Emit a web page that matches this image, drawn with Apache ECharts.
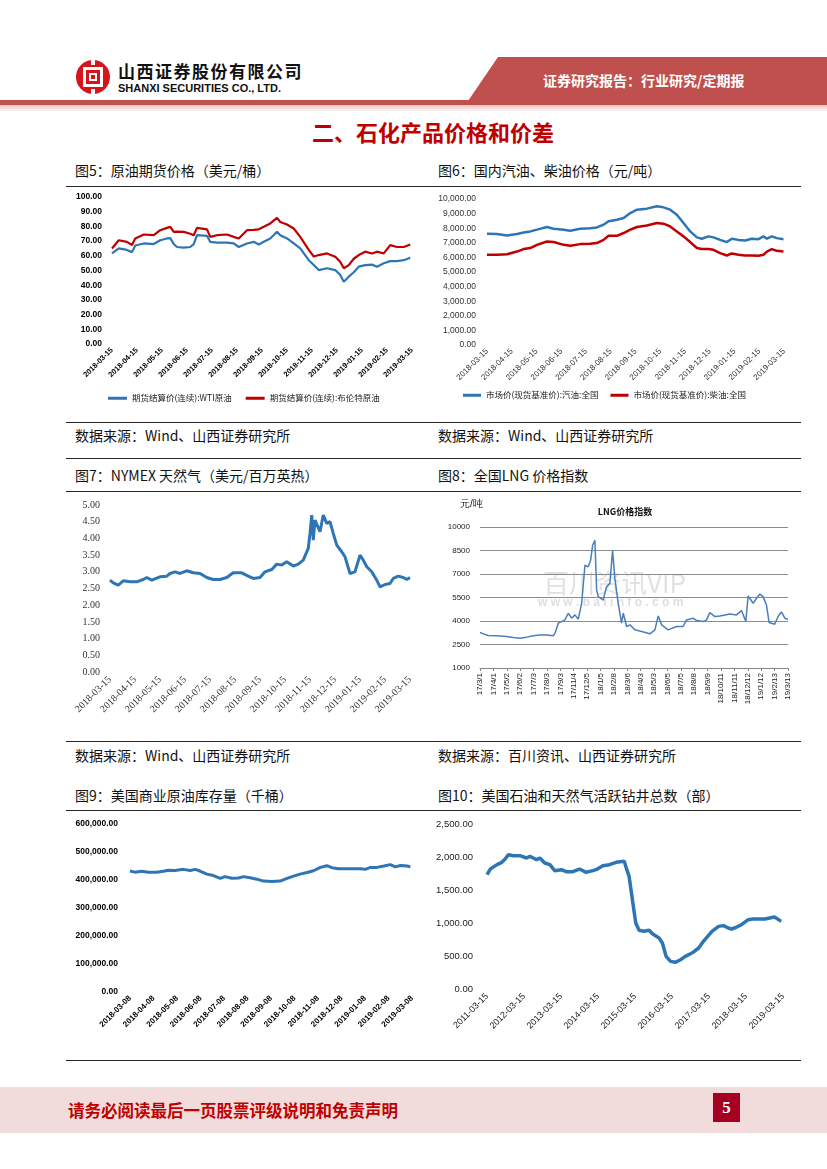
<!DOCTYPE html>
<html><head><meta charset="utf-8">
<script src="https://cdn.jsdelivr.net/npm/echarts@6/dist/echarts.min.js"></script>
<style>
body{margin:0;width:827px;height:1169px;position:relative;background:#fff;font-family:"Noto Sans CJK SC","Liberation Sans",sans-serif;overflow:hidden}
.abs{position:absolute}
.hl{position:absolute;left:66px;width:735px;height:1px;background:#262626}
.cap{position:absolute;font-size:14px;color:#111;line-height:16px;white-space:nowrap}
.chart{position:absolute}
</style></head><body>
<svg class="abs" style="left:0;top:0" width="827" height="115">
  <defs><linearGradient id="pg" x1="0" y1="0" x2="0" y2="1"><stop offset="0" stop-color="#EBC4C3"/><stop offset="1" stop-color="#FFFFFF"/></linearGradient></defs>
  <polygon points="498,57 827,57 827,101 468,101" fill="#C0504D"/>
  <rect x="0" y="100" width="827" height="5" fill="#C0504D"/>
  <rect x="0" y="105" width="827" height="7" fill="url(#pg)"/>
  <g transform="translate(76,60)">
    <circle cx="17" cy="17" r="17" fill="#D7141A"/>
    <rect x="15" y="0" width="4" height="5" fill="#fff"/>
    <rect x="15" y="29" width="4" height="5" fill="#fff"/>
    <rect x="7" y="7" width="20" height="20" fill="#fff"/>
    <rect x="10" y="10" width="14" height="14" fill="#D7141A"/>
    <rect x="13" y="13" width="8" height="8" fill="#fff"/>
    <rect x="15" y="15" width="4" height="4" fill="#D7141A"/>
  </g>
</svg>
<div class="abs" style="left:118px;top:61px;font-size:17px;font-weight:bold;letter-spacing:1.5px;color:#111;line-height:20px">山西证券股份有限公司</div>
<div class="abs" style="left:118px;top:82px;font-size:11px;font-weight:bold;color:#111;font-family:'Liberation Sans',sans-serif;line-height:13px">SHANXI SECURITIES CO., LTD.</div>
<div class="abs" style="left:543px;top:71px;font-size:14px;font-weight:bold;color:#fff;line-height:18px">证券研究报告：行业研究/定期报</div>
<div class="abs" style="left:0;width:866px;top:118px;text-align:center;font-size:22px;font-weight:bold;color:#C00000;line-height:26px">二、石化产品价格和价差</div>

<div class="cap" style="left:75px;top:162px">图5：原油期货价格（美元/桶）</div>
<div class="cap" style="left:438px;top:162px">图6：国内汽油、柴油价格（元/吨）</div>
<div class="hl" style="top:186px"></div>
<div class="hl" style="top:422px"></div>
<div class="cap" style="left:75px;top:427px">数据来源：Wind、山西证券研究所</div>
<div class="cap" style="left:438px;top:427px">数据来源：Wind、山西证券研究所</div>
<div class="hl" style="top:458px"></div>
<div class="cap" style="left:75px;top:467px">图7：NYMEX 天然气（美元/百万英热）</div>
<div class="cap" style="left:438px;top:467px">图8：全国LNG 价格指数</div>
<div class="hl" style="top:491px"></div>
<div class="hl" style="top:741px"></div>
<div class="cap" style="left:75px;top:747px">数据来源：Wind、山西证券研究所</div>
<div class="cap" style="left:438px;top:747px">数据来源：百川资讯、山西证券研究所</div>
<div class="cap" style="left:75px;top:787px">图9：美国商业原油库存量（千桶）</div>
<div class="cap" style="left:438px;top:787px">图10：美国石油和天然气活跃钻井总数（部）</div>
<div class="hl" style="top:810px"></div>
<div class="hl" style="top:1060px"></div>

<div class="abs" style="left:0;top:1087px;width:827px;height:46px;background:#F2DCDB"></div>
<div class="abs" style="left:68px;top:1100px;font-size:16.5px;font-weight:bold;color:#C00000;line-height:20px">请务必阅读最后一页股票评级说明和免责声明</div>
<div class="abs" style="left:713px;top:1093px;width:27px;height:29px;background:#A50021;color:#fff;font-family:'Liberation Serif',serif;font-weight:bold;font-size:17px;line-height:29px;text-align:center">5</div>

<div id="c5" class="chart" style="left:60px;top:187px;width:365px;height:225px"></div>
<div id="c6" class="chart" style="left:430px;top:187px;width:380px;height:225px"></div>
<div id="c7" class="chart" style="left:60px;top:492px;width:365px;height:245px"></div>
<div id="c8" class="chart" style="left:430px;top:492px;width:380px;height:245px"></div>
<div id="c9" class="chart" style="left:60px;top:812px;width:365px;height:245px"></div>
<div id="c10" class="chart" style="left:430px;top:812px;width:380px;height:245px"></div>

<script>
// ---------- Chart 5: crude futures (x in months from 2018-03-15) ----------
const c5Ticks = ['2018-03-15','2018-04-15','2018-05-15','2018-06-15','2018-07-15','2018-08-15','2018-09-15','2018-10-15','2018-11-15','2018-12-15','2019-01-15','2019-02-15','2019-03-15'];
const c5Names = ['期货结算价(连续):WTI原油','期货结算价(连续):布伦特原油'];
const c5X = [0,0.27,0.6,0.8,0.93,1.27,1.67,1.93,2.2,2.33,2.47,2.6,2.87,3.13,3.27,3.4,3.8,3.93,4.2,4.6,4.87,5.07,5.4,5.67,5.87,6.07,6.33,6.6,6.73,7.0,7.27,7.53,7.87,8.07,8.27,8.6,8.93,9.13,9.27,9.47,9.67,9.87,10.13,10.4,10.6,10.87,11.13,11.4,11.67,11.93];
const c5Wti = [61.6,65,64,62.5,67,68.4,68,70.6,71.8,72,68,66,65.5,66,68,74,73.6,69.5,69,69,68.4,66,68.4,69.5,67.7,69.5,71.8,76.3,74,71.8,68.4,65,57,53.7,50.3,51.5,50.3,47,42.4,45.8,48.8,52.6,53.7,54,52.6,54.9,56.4,56.4,57,58.7];
const c5Brent = [65,70.6,69.5,67.3,71.8,74.5,74,77.4,79,79.7,76.3,76.5,76.3,75,74,79,78,72.9,74,74.5,72.9,71.8,77.4,77.6,78,79.7,82,85.8,83,81.3,78.6,72.9,64,59.5,60.5,61.6,59.4,56,51.5,53.7,58,60.5,62.8,61.6,62.8,61.6,67.3,66,66,67.7];

// ---------- Chart 6: gasoline / diesel ----------
const c6Ticks = ['2018-03-15','2018-04-15','2018-05-15','2018-06-15','2018-07-15','2018-08-15','2018-09-15','2018-10-15','2018-11-15','2018-12-15','2019-01-15','2019-02-15','2019-03-15'];
const c6Names = ['市场价(现货基准价):汽油:全国','市场价(现货基准价):柴油:全国'];
const c6X = [0,0.4,0.81,1.21,1.48,1.75,2.02,2.42,2.69,3.1,3.36,3.77,4.17,4.44,4.71,4.91,5.25,5.52,5.79,6.06,6.46,6.86,7.13,7.4,7.67,7.94,8.21,8.48,8.68,8.95,9.15,9.42,9.69,9.89,10.16,10.43,10.7,10.97,11.17,11.31,11.51,11.71,11.98];
const c6Gas = [7620,7600,7500,7600,7700,7780,7900,8080,7960,7900,7830,7960,8000,8050,8240,8470,8580,8700,9040,9270,9340,9500,9430,9270,8920,8350,7780,7370,7280,7440,7370,7200,7050,7280,7200,7160,7280,7250,7440,7280,7440,7320,7250];
const c6Diesel = [6180,6180,6220,6400,6570,6640,6860,7090,7050,6860,6800,6910,6930,6980,7200,7480,7480,7670,7900,8080,8190,8350,8310,8120,7780,7440,7050,6640,6570,6570,6520,6290,6130,6270,6180,6130,6130,6110,6180,6400,6570,6450,6400];

// ---------- Chart 7: NYMEX natural gas ----------
const c7Ticks = ['2018-03-15','2018-04-15','2018-05-15','2018-06-15','2018-07-15','2018-08-15','2018-09-15','2018-10-15','2018-11-15','2018-12-15','2019-01-15','2019-02-15','2019-03-15'];
const c7X = [0,0.13,0.33,0.53,0.8,1.07,1.33,1.47,1.67,2,2.27,2.4,2.6,2.8,3.07,3.33,3.6,3.87,4.13,4.4,4.67,4.93,5.27,5.53,5.73,6,6.2,6.47,6.67,6.87,7.07,7.33,7.53,7.73,7.93,8,8.07,8.13,8.2,8.4,8.53,8.67,8.8,8.93,9.07,9.27,9.4,9.6,9.8,10,10.13,10.27,10.47,10.67,10.8,11,11.2,11.33,11.53,11.73,11.87,12];
const c7Gas = [2.75,2.67,2.6,2.73,2.7,2.7,2.77,2.83,2.75,2.85,2.87,2.95,3.0,2.95,3.03,2.97,2.95,2.83,2.77,2.77,2.83,2.97,2.97,2.87,2.8,2.83,3.0,3.07,3.23,3.2,3.3,3.17,3.23,3.35,3.7,4.15,4.7,3.95,4.55,4.2,4.7,4.45,4.5,4.15,3.8,3.6,3.45,2.95,3.0,3.5,3.35,3.15,3.0,2.75,2.55,2.62,2.65,2.8,2.87,2.83,2.77,2.83];

// ---------- Chart 8: LNG price index (x in label-index units) ----------
const c8Ticks = ['17/3/1','17/4/1','17/5/2','17/6/2','17/7/3','17/8/3','17/9/3','17/11/4','17/12/5','18/1/5','18/2/8','18/3/6','18/4/3','18/5/3','18/6/5','18/7/5','18/8/8','18/9/9','18/10/11','18/11/11','18/12/12','19/1/12','19/2/13','19/3/13'];
const c8X = [0,0.25,0.62,1.24,1.99,2.49,2.99,3.48,3.98,4.48,4.98,5.47,5.6,5.85,6.09,6.34,6.59,6.84,7.09,7.34,7.59,7.84,8.08,8.26,8.41,8.58,8.71,8.83,9.2,9.45,9.7,9.9,10.07,10.32,10.57,10.7,10.95,11.19,11.57,12.06,12.69,13.06,13.31,13.56,14.05,14.68,15.17,15.42,15.92,16.17,16.67,16.92,17.16,17.54,17.91,18.66,19.15,19.53,19.85,20.02,20.4,20.65,20.9,21.14,21.39,21.59,22.01,22.26,22.51,22.76,23];
const c8Lng = [3266,3180,3075,3055,3010,2950,2905,2970,3055,3100,3100,3055,3225,3860,3965,4070,4495,4180,4390,4115,5130,7565,7460,7880,8835,9155,5980,5555,5340,6190,6400,8520,6720,5130,3860,4495,3650,3755,3435,3330,3180,3435,4325,3755,3435,3650,3650,4070,4180,4030,3965,4070,4535,4285,4325,4450,4390,4665,3965,5595,5130,5450,5720,5555,5025,3900,3795,4285,4580,4180,4115];

// ---------- Chart 9: US commercial crude inventory ----------
const c9Ticks = ['2018-03-08','2018-04-08','2018-05-08','2018-06-08','2018-07-08','2018-08-08','2018-09-08','2018-10-08','2018-11-08','2018-12-08','2019-01-08','2019-02-08','2019-03-08'];
const c9X = [0,0.21,0.5,0.78,1.14,1.42,1.63,1.92,2.27,2.56,2.77,2.98,3.27,3.55,3.84,4.05,4.33,4.62,4.83,5.11,5.4,5.68,6.04,6.39,6.68,6.96,7.24,7.53,7.81,8.1,8.38,8.59,8.88,9.23,9.52,9.8,10.01,10.23,10.51,10.8,11.08,11.29,11.51,11.79,11.93];
const c9Stock = [432000,428000,431000,428000,428000,431000,435000,434000,438000,434000,438000,432000,421000,416000,406000,412000,406000,407000,412000,408000,403000,396000,395000,396000,406000,414000,421000,427000,433000,445000,451000,444000,440000,440000,440000,440000,438000,445000,445000,450000,455000,447000,452000,450000,447000];

// ---------- Chart 10: US oil & gas rig count (x in years from 2011-03-15) ----------
const c10Ticks = ['2011-03-15','2012-03-15','2013-03-15','2014-03-15','2015-03-15','2016-03-15','2017-03-15','2018-03-15','2019-03-15'];
const c10X = [0,0.09,0.27,0.4,0.49,0.58,0.71,0.89,1.07,1.16,1.25,1.34,1.43,1.56,1.7,1.83,2.01,2.14,2.32,2.5,2.68,2.86,2.95,3.13,3.31,3.49,3.71,3.75,3.84,3.93,4.02,4.11,4.24,4.38,4.47,4.65,4.74,4.84,4.96,5.09,5.23,5.36,5.54,5.72,5.85,6.08,6.26,6.39,6.52,6.61,6.75,6.88,7.06,7.19,7.37,7.51,7.64,7.77,7.91,7.95];
const c10Rigs = [1732,1818,1884,1919,1970,2035,2020,2020,1985,2010,1985,1960,1985,1909,1884,1793,1808,1778,1778,1818,1768,1793,1808,1868,1884,1919,1934,1858,1707,1353,1000,889,874,889,838,773,697,495,419,404,444,495,545,621,722,874,949,960,924,909,939,975,1050,1061,1061,1061,1076,1091,1040,1025];

const BLUE = '#2E75B6', RED = '#C00000';
const CJK = '"Noto Sans CJK SC","Liberation Sans",sans-serif';
function pairs(xs, ys){ return xs.map((x,i)=>[x, ys[i]]); }
function fmt2(v){ return v.toLocaleString('en-US',{minimumFractionDigits:2,maximumFractionDigits:2}); }
function xAx(ticks, lbl){
  return Object.assign({type:'value', min:0, max:ticks.length-1, interval:1,
    axisLine:{show:false}, axisTick:{show:false}, splitLine:{show:false},
    axisLabel:Object.assign({rotate:45, margin:5, color:'#000', showMinLabel:true, showMaxLabel:true,
      formatter:v=>ticks[Math.round(v)]||''}, lbl)});
}
function yAx(min,max,interval,lbl,extra){
  return Object.assign({type:'value', min, max, interval,
    axisLine:{show:false}, axisTick:{show:false}, splitLine:{show:false},
    axisLabel:Object.assign({color:'#000', formatter:fmt2}, lbl)}, extra||{});
}
function line(name, xs, ys, color, width){
  return {type:'line', name, data:pairs(xs,ys), showSymbol:false, symbol:'none', smooth:false,
    lineStyle:{color, width}, itemStyle:{color}, z:3};
}

// Chart 5
echarts.init(document.getElementById('c5')).setOption({
  animation:false, textStyle:{fontFamily:CJK},
  grid:{left:52, top:10, width:300, height:147, outerBoundsMode:'none'},
  xAxis:xAx(c5Ticks,{fontSize:7.5, fontWeight:'bold', fontFamily:'Liberation Sans'}),
  yAxis:yAx(0,100,10,{fontSize:8.5, fontWeight:'bold', fontFamily:'Liberation Sans', margin:10}),
  legend:{left:43, top:202, icon:'rect', itemWidth:19, itemHeight:3, itemGap:14,
    textStyle:{fontSize:8.5, color:'#222', fontFamily:CJK}, data:c5Names},
  series:[line(c5Names[0],c5X,c5Wti,BLUE,2.2), line(c5Names[1],c5X,c5Brent,RED,2.2)]
});

// Chart 6
echarts.init(document.getElementById('c6')).setOption({
  animation:false, textStyle:{fontFamily:CJK},
  grid:{left:57, top:12, width:297, height:146, outerBoundsMode:'none'},
  xAxis:xAx(c6Ticks,{fontSize:8, color:'#333', fontFamily:'Liberation Sans'}),
  yAxis:yAx(0,10000,1000,{fontSize:8.5, color:'#333', fontFamily:'Liberation Sans', margin:11}),
  legend:{left:28, top:199, icon:'rect', itemWidth:18, itemHeight:3, itemGap:12,
    textStyle:{fontSize:8.5, color:'#222', fontFamily:CJK}, data:c6Names},
  series:[line(c6Names[0],c6X,c6Gas,BLUE,2.5), line(c6Names[1],c6X,c6Diesel,RED,2.5)]
});

// Chart 7
echarts.init(document.getElementById('c7')).setOption({
  animation:false, textStyle:{fontFamily:CJK},
  grid:{left:50, top:13, width:300, height:167, outerBoundsMode:'none'},
  xAxis:xAx(c7Ticks,{fontSize:10, color:'#333', fontFamily:'Liberation Serif', margin:6}),
  yAxis:yAx(0,5,0.5,{fontSize:10, color:'#333', fontFamily:'Liberation Serif', margin:10}),
  series:[line('NYMEX天然气',c7X,c7Gas,BLUE,3)]
});

// Chart 8
echarts.init(document.getElementById('c8')).setOption({
  animation:false, textStyle:{fontFamily:CJK},
  grid:{left:50, top:35, width:308, height:141, outerBoundsMode:'none'},
  title:{text:'LNG价格指数', left:190, top:10, textAlign:'center',
    textStyle:{fontSize:9, fontWeight:'bold', color:'#111', fontFamily:CJK}},
  graphic:[
    {type:'text', left:30, top:7, style:{text:'元/吨', fontSize:10, fill:'#111', font:'10px '+CJK}},
    {type:'text', x:113, y:78, z:0, style:{text:'百川资讯VIP', font:'26px '+CJK, fill:'rgba(200,200,200,0.55)'}},
    {type:'text', x:108, y:105, z:0, style:{text:'w w w . b a i i n f o . c o m', font:'bold 12px "Liberation Sans"', fill:'rgba(200,200,200,0.6)'}}
  ],
  xAxis:{type:'value', min:0, max:23, interval:1,
    axisLine:{show:true, lineStyle:{color:'#868686', width:1}},
    axisTick:{show:true, length:3, lineStyle:{color:'#868686'}},
    splitLine:{show:false},
    axisLabel:{rotate:90, margin:5, fontSize:8, color:'#222', fontFamily:'Liberation Sans',
      showMinLabel:true, showMaxLabel:true, formatter:v=>c8Ticks[Math.round(v)]||''}},
  yAxis:{type:'value', min:1000, max:10000, interval:1500,
    axisLine:{show:false}, axisTick:{show:false},
    splitLine:{show:true, lineStyle:{color:'#8c8c8c', width:1}},
    axisLabel:{fontSize:8, color:'#222', fontFamily:'Liberation Sans', margin:10, formatter:v=>String(v)}},
  series:[line('LNG价格指数',c8X,c8Lng,'#4A7EBB',1.5)]
});

// Chart 9
echarts.init(document.getElementById('c9')).setOption({
  animation:false, textStyle:{fontFamily:CJK},
  grid:{left:70, top:12, width:282, height:168, outerBoundsMode:'none'},
  xAxis:xAx(c9Ticks,{fontSize:8, fontWeight:'bold', fontFamily:'Liberation Sans'}),
  yAxis:yAx(0,600000,100000,{fontSize:8.5, fontWeight:'bold', fontFamily:'Liberation Sans', margin:12}),
  series:[line('美国商业原油库存量',c9X,c9Stock,BLUE,3)]
});

// Chart 10
echarts.init(document.getElementById('c10')).setOption({
  animation:false, textStyle:{fontFamily:CJK},
  grid:{left:57, top:12, width:296, height:165, outerBoundsMode:'none'},
  xAxis:xAx(c10Ticks,{fontSize:9, color:'#222', fontFamily:'Liberation Sans', margin:6}),
  yAxis:yAx(0,2500,500,{fontSize:9.5, color:'#222', fontFamily:'Liberation Sans', margin:14}),
  series:[line('美国石油和天然气活跃钻井总数',c10X,c10Rigs,BLUE,3.5)]
});
</script>
</body></html>
